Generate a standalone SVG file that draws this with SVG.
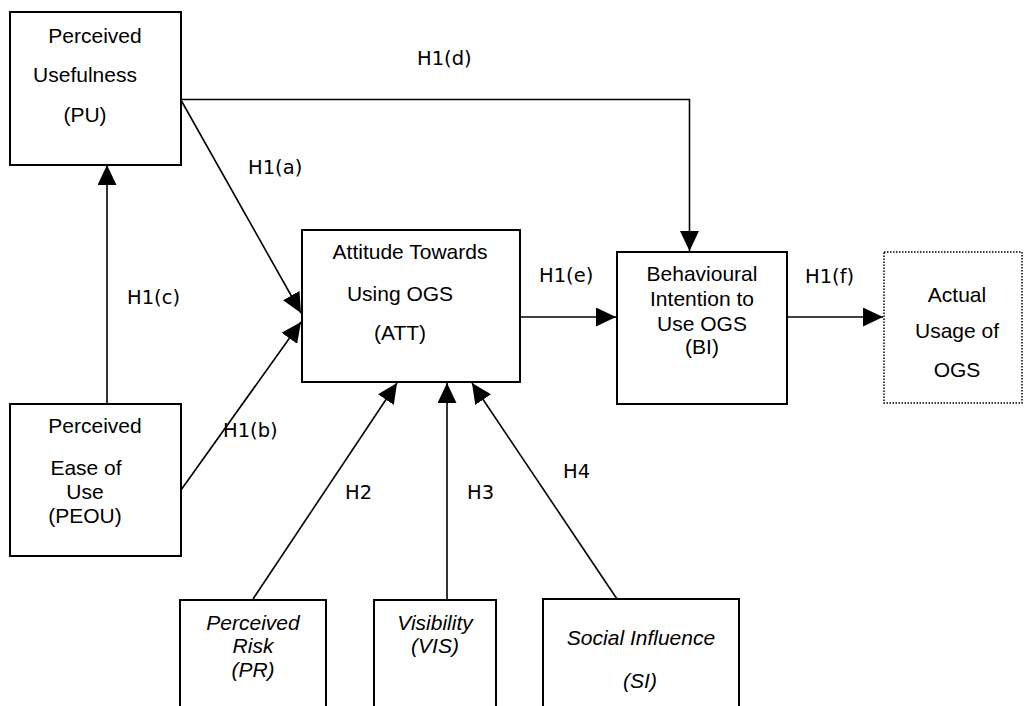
<svg xmlns="http://www.w3.org/2000/svg" width="1024" height="706" viewBox="0 0 1024 706">
<style>
.box{fill:#fff;stroke:#000;stroke-width:2}
.dot{fill:#fff;stroke:#000;stroke-width:1.5;stroke-dasharray:1.5 1.5}
.t{font-family:"Liberation Sans",Arial,sans-serif;font-size:21px;fill:#000;text-anchor:middle}
.i{font-style:italic}
.lab{font-family:"DejaVu Sans",Verdana,sans-serif;font-size:19.5px;fill:#000}
.ln{fill:none;stroke:#000;stroke-width:1.6}
</style>
<defs>
<marker id="ah" markerUnits="userSpaceOnUse" markerWidth="20" markerHeight="19" refX="20" refY="9.5" orient="auto">
<path d="M0,0 L20,9.5 L0,19 z" fill="#000"/>
</marker>
</defs>
<rect width="1024" height="706" fill="#fff"/>
<g id="connectors">
<path class="ln" d="M181,99.5 H689.5 V251" marker-end="url(#ah)"/>
<line class="ln" x1="181.5" y1="101" x2="301" y2="313" marker-end="url(#ah)"/>
<line class="ln" x1="181" y1="490" x2="301" y2="322" marker-end="url(#ah)"/>
<line class="ln" x1="107" y1="404" x2="107" y2="165" marker-end="url(#ah)"/>
<line class="ln" x1="520" y1="317" x2="616" y2="317" marker-end="url(#ah)"/>
<line class="ln" x1="787" y1="317" x2="883" y2="317" marker-end="url(#ah)"/>
<line class="ln" x1="253" y1="599" x2="397" y2="383" marker-end="url(#ah)"/>
<line class="ln" x1="447" y1="599" x2="447" y2="383" marker-end="url(#ah)"/>
<line class="ln" x1="617" y1="599" x2="472" y2="383" marker-end="url(#ah)"/>
<text class="lab" x="417" y="65">H1(d)</text>
<text class="lab" x="248" y="174">H1(a)</text>
<text class="lab" x="127" y="304">H1(c)</text>
<text class="lab" x="223" y="437">H1(b)</text>
<text class="lab" x="539" y="282">H1(e)</text>
<text class="lab" x="805" y="283">H1(f)</text>
<text class="lab" x="345" y="499">H2</text>
<text class="lab" x="467" y="499">H3</text>
<text class="lab" x="563" y="478">H4</text>
</g>
<g id="PU">
<rect class="box" x="10" y="12" width="171" height="153"/>
<text class="t" x="95" y="43">Perceived</text>
<text class="t" x="85" y="82">Usefulness</text>
<text class="t" x="85" y="122">(PU)</text>
</g>
<g id="PEOU">
<rect class="box" x="10" y="404" width="171" height="152"/>
<text class="t" x="95" y="433">Perceived</text>
<text class="t" x="86" y="475">Ease of</text>
<text class="t" x="85" y="499">Use</text>
<text class="t" x="85" y="523">(PEOU)</text>
</g>
<g id="ATT">
<rect class="box" x="302" y="230" width="218" height="152"/>
<text class="t" x="410" y="259">Attitude Towards</text>
<text class="t" x="400" y="301">Using OGS</text>
<text class="t" x="400" y="340">(ATT)</text>
</g>
<g id="BI">
<rect class="box" x="617" y="252" width="170" height="152"/>
<text class="t" x="702" y="281">Behavioural</text>
<text class="t" x="702" y="306">Intention to</text>
<text class="t" x="702" y="331">Use OGS</text>
<text class="t" x="702" y="354">(BI)</text>
</g>
<g id="AU">
<rect class="dot" x="884" y="252" width="138" height="151"/>
<text class="t" x="957" y="302">Actual</text>
<text class="t" x="957" y="338">Usage of</text>
<text class="t" x="957" y="377">OGS</text>
</g>
<g id="PR">
<rect class="box" x="180" y="600" width="146" height="120"/>
<text class="t i" x="253" y="630">Perceived</text>
<text class="t i" x="253" y="653">Risk</text>
<text class="t i" x="253" y="677">(PR)</text>
</g>
<g id="VIS">
<rect class="box" x="374" y="600" width="122" height="120"/>
<text class="t i" x="435" y="630">Visibility</text>
<text class="t i" x="435" y="653">(VIS)</text>
</g>
<g id="SI">
<rect class="box" x="543" y="599" width="196" height="121"/>
<text class="t i" x="641" y="645">Social Influence</text>
<text class="t i" x="640" y="688">(SI)</text>
</g>
</svg>
